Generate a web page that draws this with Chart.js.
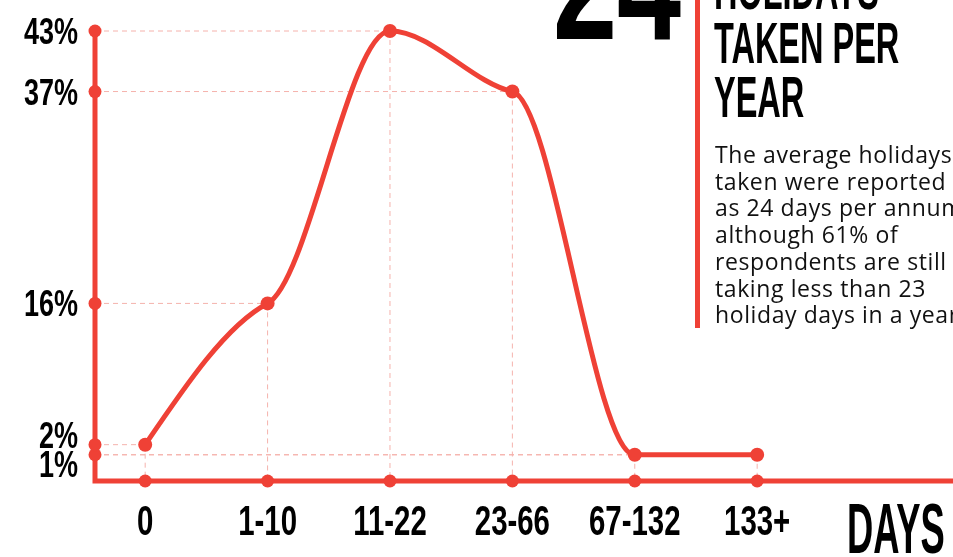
<!DOCTYPE html>
<html>
<head>
<meta charset="utf-8">
<script src="https://cdn.jsdelivr.net/npm/chart.js@4"></script>
<style>
    html, body {
        margin: 0;
        padding: 0;
        background: #fff;
    }
    #wrap {
        position: relative;
        width: 953px;
        height: 557px;
        overflow: hidden;
    }
    #chart {
        position: absolute;
        left: 0;
        top: 0;
    }
    .cond {
        position: absolute;
        font-family: "Liberation Sans", Arial, sans-serif;
        font-weight: bold;
        color: #000;
        white-space: nowrap;
        transform-origin: left top;
    }
    #big {
        left: 553px;
        top: -96px;
        font-size: 160px;
        line-height: 160px;
        transform: scaleX(0.72);
    }
    #title {
        left: 714px;
        top: -38px;
        font-size: 57px;
        line-height: 54px;
        transform: scaleX(0.57);
    }
    #bar {
        position: absolute;
        left: 695px;
        top: 0;
        width: 5px;
        height: 328px;
        background: #ef4136;
    }
    #note {
        position: absolute;
        left: 715px;
        top: 141px;
        font-family: "Open Sans", "Noto Sans", sans-serif;
        font-size: 23px;
        letter-spacing: 0.6px;
        line-height: 26.7px;
        color: #111;
        white-space: nowrap;
    }
</style>
</head>
<body>
<div id="wrap">
    <canvas id="chart" width="953" height="557"></canvas>
    <div id="big" class="cond">24</div>
    <div id="bar"></div>
    <div id="title" class="cond">HOLIDAYS<br>TAKEN PER<br>YEAR</div>
    <div id="note">
        The average holidays<br>
        taken were reported<br>
        as 24 days per annum,<br>
        although 61% of<br>
        respondents are still<br>
        taking less than 23<br>
        holiday days in a year.
    </div>
</div>

<script>
const categories = ["0", "1-10", "11-22", "23-66", "67-132", "133+"];
const shares = [2, 16, 43, 37, 1, 1];
const yTickValues = [1, 2, 16, 37, 43];
const axisTitle = "DAYS";

const red = "#ef4136";
const guide = "#f5b2ac";
const condFont = '"Liberation Sans", Arial, sans-serif';

function condText(ctx, text, x, y, size, squeeze, align) {
    ctx.save();
    ctx.font = `bold ${size}px ${condFont}`;
    ctx.textAlign = align;
    ctx.textBaseline = "alphabetic";
    ctx.translate(x, y);
    ctx.scale(squeeze, 1);
    ctx.fillText(text, 0, 0);
    ctx.restore();
}

function dot(ctx, x, y, r) {
    ctx.beginPath();
    ctx.arc(x, y, r, 0, Math.PI * 2);
    ctx.fill();
}

// flatter tangents at the points than chart.js monotone gives
const softCurve = {
    id: "softCurve",
    beforeDatasetsDraw(chart) {
        const meta = chart.getDatasetMeta(0);
        const pts = meta.data;
        const n = pts.length;
        if (n < 3) return;

        const slopes = [];
        for (let i = 0; i < n - 1; i++) {
            slopes.push((pts[i + 1].y - pts[i].y) / (pts[i + 1].x - pts[i].x));
        }

        const m = pts.map((p, i) => {
            if (i === 0 || i === n - 1) return 0;
            const a = slopes[i - 1], b = slopes[i];
            if (a * b <= 0) return 0;
            return Math.sign(a) * 0.45 * Math.min(Math.abs(a), Math.abs(b));
        });
        m[0] = (3 * slopes[0] - m[1]) / 2;
        m[n - 1] = (3 * slopes[n - 2] - m[n - 2]) / 2;

        pts.forEach((p, i) => {
            if (i > 0) {
                const dx = (p.x - pts[i - 1].x) / 3;
                p.cp1x = p.x - dx;
                p.cp1y = p.y - dx * m[i];
            }
            if (i < n - 1) {
                const dx = (pts[i + 1].x - p.x) / 3;
                p.cp2x = p.x + dx;
                p.cp2y = p.y + dx * m[i];
            }
        });
        meta.dataset._pointsUpdated = true;
        meta.dataset._path = undefined;
    }
};

const decor = {
    id: "decor",
    beforeDatasetsDraw(chart) {
        const { ctx, chartArea: a, scales: { x, y } } = chart;

        // dashed guides from axis to each point, and down to the baseline
        ctx.save();
        ctx.strokeStyle = guide;
        ctx.lineWidth = 1;
        ctx.setLineDash([5, 4]);
        shares.forEach((v, i) => {
            const px = x.getPixelForValue(i);
            const py = y.getPixelForValue(v);
            ctx.beginPath();
            ctx.moveTo(a.left, py);
            ctx.lineTo(px, py);
            ctx.moveTo(px, py);
            ctx.lineTo(px, a.bottom);
            ctx.stroke();
        });
        ctx.restore();

        // axes
        ctx.save();
        ctx.strokeStyle = red;
        ctx.fillStyle = red;
        ctx.lineWidth = 5;
        ctx.beginPath();
        ctx.moveTo(a.left, y.getPixelForValue(Math.max(...yTickValues)));
        ctx.lineTo(a.left, a.bottom);
        ctx.lineTo(a.right, a.bottom);
        ctx.stroke();

        yTickValues.forEach(v => dot(ctx, a.left, y.getPixelForValue(v), 6.5));
        categories.forEach((c, i) => dot(ctx, x.getPixelForValue(i), a.bottom, 6.5));
        ctx.restore();

        // labels
        ctx.save();
        ctx.fillStyle = "#000";

        categories.forEach((c, i) => {
            condText(ctx, c, x.getPixelForValue(i), a.bottom + 54, 42, 0.7, "center");
        });

        // y labels, pushed apart where they would overlap
        const minGap = 29;
        const items = yTickValues
            .map(v => ({ v, c: y.getPixelForValue(v) }))
            .sort((p, q) => q.c - p.c);
        for (let i = 1; i < items.length; i++) {
            const gap = items[i - 1].c - items[i].c;
            if (gap < minGap) {
                const d = (minGap - gap) / 2;
                items[i - 1].c += d;
                items[i].c -= d;
            }
        }
        items.forEach(it => {
            condText(ctx, `${it.v}%`, a.left - 17, it.c + 13, 36, 0.75, "right");
        });

        condText(ctx, axisTitle, 847, a.bottom + 72, 70, 0.52, "left");
        ctx.restore();
    }
};

new Chart(document.getElementById("chart"), {
    type: "line",
    data: {
        datasets: [
            {
                label: "Share of respondents",
                data: categories.map((c, i) => ({ x: i, y: shares[i] })),
                borderColor: red,
                backgroundColor: red,
                borderWidth: 5,
                pointRadius: 7,
                pointBorderWidth: 0,
                pointBackgroundColor: red,
                cubicInterpolationMode: "monotone",
                fill: false,
                clip: false
            }
        ]
    },
    options: {
        responsive: false,
        animation: false,
        layout: {
            autoPadding: false,
            padding: { left: 95, right: 0, top: 31, bottom: 76 }
        },
        plugins: {
            legend: { display: false },
            tooltip: { enabled: false }
        },
        scales: {
            x: { type: "linear", display: false, min: -0.41, max: 6.6 },
            y: { display: false, min: -1.6, max: 43 }
        }
    },
    plugins: [decor, softCurve]
});
</script>
</body>
</html>
